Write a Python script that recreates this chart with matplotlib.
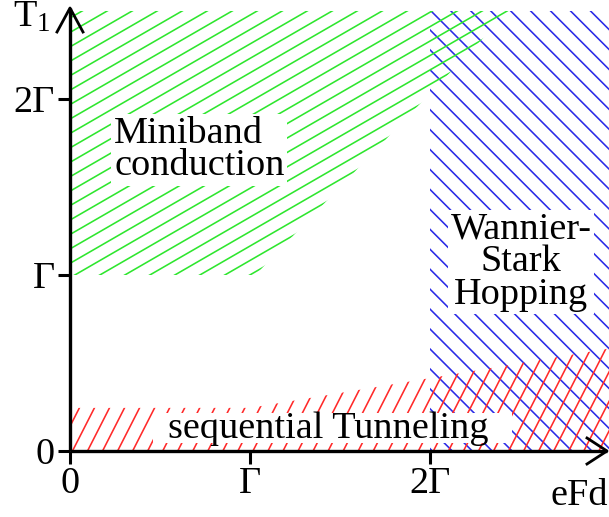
import numpy as np
import matplotlib.pyplot as plt
from matplotlib.patches import Polygon, Rectangle
from matplotlib.collections import LineCollection

plt.rcParams['font.family'] = 'Liberation Serif'
plt.rcParams['mathtext.fontset'] = 'custom'
plt.rcParams['mathtext.rm'] = 'Liberation Serif'
plt.rcParams['mathtext.it'] = 'Liberation Serif:italic'

# region outlines, in units of Gamma (x = eFd, y = T1)
green_x = [0, 1.03, 2.44, 0]
green_y = [1, 1, 2.5, 2.5]
blue_x = [2, 3.1, 3.1, 2]
blue_y = [0, 0, 2.5, 2.5]
red_x = [0, 0, 1, 3.1, 3.1]
red_y = [0, 0.245, 0.245, 0.6, 0]

tick_pos = [0, 1, 2]
tick_labels = ['0', 'Γ', '2Γ']

W, H = 609, 517
ox, oy = 70, 451          # origin in pixels
gx, gy = 180, 176         # pixels per Gamma
FS = 27.5

fig = plt.figure(figsize=(W / 100, H / 100), dpi=100)
ax = fig.add_axes([ox / W, (H - oy) / H, (W - ox) / W, oy / H])
ax.set_xlim(0, (W - ox) / gx)
ax.set_ylim(0, oy / gy)
for s in ax.spines.values():
    s.set_visible(False)


def hatch(xs, ys, angle, spacing, color, z):
    poly = Polygon(np.column_stack([xs, ys]), closed=True, fill=False,
                   edgecolor='none')
    ax.add_patch(poly)
    a = np.radians(angle)
    d = np.array([np.cos(a), np.sin(a)])
    n = np.array([-np.sin(a), np.cos(a)])
    segs = []
    for off in np.arange(-900, 900, spacing):
        p = off * n
        p1 = p - 1200 * d
        p2 = p + 1200 * d
        segs.append([(p1[0] / gx, p1[1] / gy), (p2[0] / gx, p2[1] / gy)])
    lc = LineCollection(segs, colors=color, linewidths=1.15, zorder=z)
    ax.add_collection(lc)
    lc.set_clip_path(poly)


hatch(blue_x, blue_y, -45, 14.1, '#2a2ae6', 1)
hatch(green_x, green_y, 30, 12.5, '#2ee62e', 1.5)
hatch(red_x, red_y, 63, 13.4, '#ff2a2a', 2)

# axes with open arrow heads
xt = (607 - ox) / gx
yt = (oy - 8) / gy
ax.plot([0, xt], [0, 0], color='black', lw=2.4, clip_on=False, zorder=5,
        solid_capstyle='butt')
ax.plot([0, 0], [0, yt], color='black', lw=2.4, clip_on=False, zorder=5,
        solid_capstyle='butt')
ax.plot([xt - 20 / gx, xt, xt - 20 / gx], [13 / gy, 0, -13 / gy],
        color='black', lw=2, clip_on=False, zorder=5)
ax.plot([-13 / gx, 0, 13 / gx], [yt - 24 / gy, yt, yt - 24 / gy],
        color='black', lw=2, clip_on=False, zorder=5)

ax.set_xticks(tick_pos, tick_labels)
ax.set_yticks(tick_pos, tick_labels)
ax.tick_params(direction='out', length=9, width=2.2, labelsize=FS, pad=2)

box = dict(facecolor='white', edgecolor='none', pad=2)
ax.text((114 - ox) / gx, (oy - 150) / gy, 'Miniband\nconduction', fontsize=FS,
        ha='left', va='center', multialignment='left', linespacing=0.92,
        bbox=box, zorder=4)
ax.text((521 - ox) / gx, (oy - 262) / gy, 'Wannier-\nStark\nHopping',
        fontsize=FS, ha='center', va='center', multialignment='center',
        linespacing=0.92, bbox=box, zorder=4)

# white box behind the tunneling label
ax.add_patch(Rectangle(((153 - ox) / gx, (oy - 443) / gy), 359 / gx, 30 / gy,
                       facecolor='white', edgecolor='none', zorder=3))
ax.text((328 - ox) / gx, (oy - 438) / gy, 'sequential Tunneling', fontsize=FS,
        ha='center', va='baseline', zorder=4)

fig.text(13 / W, 1 - 27 / H, 'T$_1$', fontsize=FS, ha='left', va='baseline')
fig.text(550 / W, 1 - 505 / H, 'eFd', fontsize=FS, ha='left', va='baseline')

fig.savefig('out.png', dpi=100)
